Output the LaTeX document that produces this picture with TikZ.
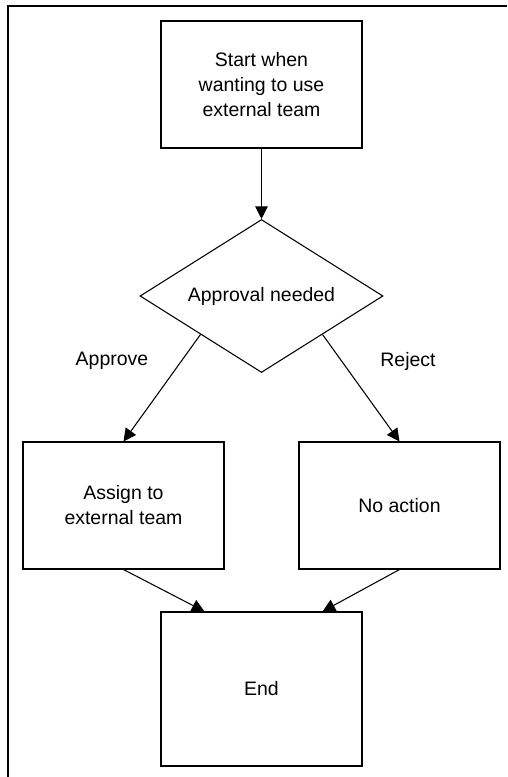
\documentclass[tikz,border=0pt]{standalone}
\usepackage{fontspec}
\setmainfont{Liberation Sans}
\usetikzlibrary{shapes.geometric,arrows.meta,calc}
\begin{document}
\begin{tikzpicture}[x=0.75pt,y=-0.75pt,
  line width=0.8pt,
  font=\fontsize{14.6pt}{18.75pt}\selectfont,
  stepbox/.style={draw, rectangle, minimum width=150.75pt, minimum height=95.25pt,
    align=center, inner sep=0pt},
  decision/.style={draw, diamond, minimum width=182.25pt, minimum height=114.75pt,
    inner sep=0pt, shape aspect=1.59},
  flow/.style={-{Triangle[length=9.5pt,width=9.5pt]}},
  lbl/.style={inner sep=0pt}]
  \useasboundingbox (0,0) rectangle (507,777);
  % outer frame (left and top edges only)
  \draw[line width=1pt] (8,777) -- (8,6) -- (507,6);

  \node[stepbox] (start) at (261.5,84.5) {Start when\\wanting to use\\external team};
  \node[decision] (dec) at (261.5,296) {Approval needed};
  \node[stepbox] (assign) at (123.5,505.5) {Assign to\\external team};
  \node[stepbox] (noact) at (399.5,505.5) {No action};
  \node[stepbox, minimum height=115.5pt] (end) at (261.5,689) {End};

  \coordinate (endL) at ([xshift=33pt]end.north west);
  \coordinate (endR) at ([xshift=-30pt]end.north east);

  \draw[flow] (start.south) -- (dec.north);
  \draw[flow] (dec.south west) -- (assign.north);
  \draw[flow] (dec.south east) -- (noact.north);
  \draw[flow] (assign.south) -- (endL);
  \draw[flow] (noact.south) -- (endR);

  \node[lbl] (lapprove) at (112,361) {Approve};
  \node[lbl] (lreject) at (408,361) {Reject};
\end{tikzpicture}
\end{document}
